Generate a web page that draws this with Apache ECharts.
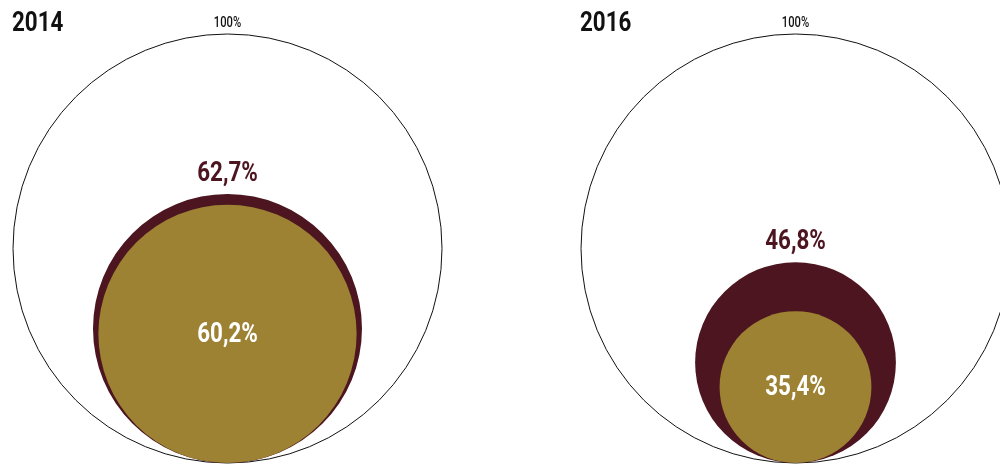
<!DOCTYPE html>
<html>
<head>
<meta charset="utf-8">
<script src="https://cdn.jsdelivr.net/npm/echarts@6/dist/echarts.min.js"></script>
<style>html,body{margin:0;padding:0;background:#fff}#c{width:1000px;height:465px}</style>
</head>
<body>
<div id="c"></div>
<script>
const years = ['2014', '2016'];
const totalValues = [100, 100];
const outerValues = [62.7, 46.8];
const innerValues = [60.2, 35.4];

const FONT = "Roboto, 'Liberation Sans', sans-serif";
const MAROON = '#4c1520';
const OLIVE = '#9c8232';
const SX = 0.8;

function fmt(v) { return (Number.isInteger(v) ? String(v) : v.toFixed(1).replace('.', ',')) + '%'; }

function txt(text, x, y, size, weight, color, vAlign) {
  return {
    type: 'text', x: x, y: y, scaleX: SX,
    style: { text: text, x: 0, y: 0, align: 'center', verticalAlign: vAlign, fill: color, font: weight + ' ' + size + 'px ' + FONT }
  };
}

function makeSeries(idx, value, kind) {
  return {
    type: 'custom',
    xAxisIndex: idx,
    yAxisIndex: idx,
    clip: false,
    silent: true,
    data: [[0, value]],
    renderItem: function (params, api) {
      const v = api.value(1);
      const c = api.coord([0, v]);
      const r = api.size([0, v])[1];
      const children = [];
      let style;
      if (kind === 'total') style = { fill: '#fff', stroke: '#111', lineWidth: 1 };
      else if (kind === 'outer') style = { fill: MAROON };
      else style = { fill: OLIVE };
      children.push({ type: 'circle', shape: { cx: c[0], cy: c[1], r: r }, style: style });
      if (kind === 'total') {
        children.push(txt(fmt(v), c[0], c[1] - r - 4, 14, '500', '#111', 'bottom'));
      } else if (kind === 'outer') {
        children.push(txt(fmt(v), c[0], c[1] - r - 6, 28, 'bold', MAROON, 'bottom'));
      } else {
        children.push(txt(fmt(v), c[0], c[1] + 1, 28, 'bold', '#fff', 'middle'));
      }
      return { type: 'group', children: children };
    }
  };
}

// layout: 429px spans 200 units in both directions; grids kept inside canvas
const PX_PER_UNIT = 429 / 200;
const gridLefts = [13, 581];
const gridWidths = [429, 419];
const chart = echarts.init(document.getElementById('c'), null, { renderer: 'canvas' });
const series = [];
years.forEach((y, i) => {
  series.push(makeSeries(i, totalValues[i], 'total'));
  series.push(makeSeries(i, outerValues[i], 'outer'));
  series.push(makeSeries(i, innerValues[i], 'inner'));
});
chart.setOption({
  animation: false,
  backgroundColor: '#fff',
  graphic: years.map((y, i) => ({
    type: 'text', left: gridLefts[i] - 1, top: 10, scaleX: SX,
    style: { text: y, fill: '#111', font: 'bold 28px ' + FONT }
  })),
  grid: gridLefts.map((l, i) => ({ left: l, top: 34, width: gridWidths[i], height: 429, outerBoundsMode: 'none', containLabel: false })),
  xAxis: years.map((y, i) => ({ type: 'value', gridIndex: i, min: -100, max: -100 + gridWidths[i] / PX_PER_UNIT, show: false })),
  yAxis: years.map((y, i) => ({ type: 'value', gridIndex: i, min: 0, max: 200, show: false })),
  series: series
});
</script>
</body>
</html>
